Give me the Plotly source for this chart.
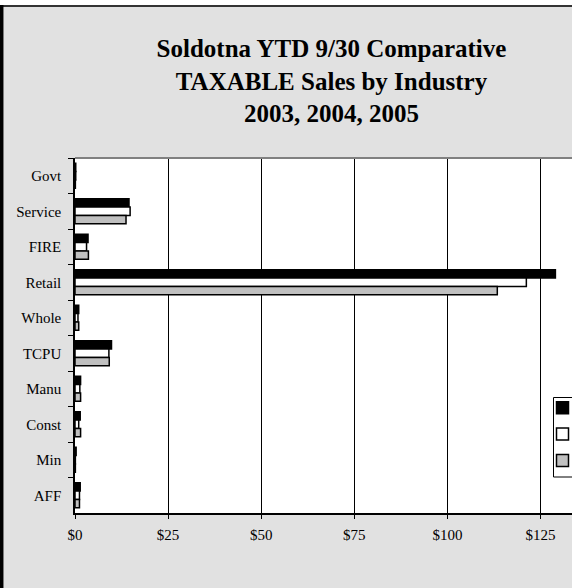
import plotly.graph_objects as go

categories = ["Govt", "Service", "FIRE", "Retail", "Whole", "TCPU", "Manu", "Const", "Min", "AFF"]
sales_2003 = [0.2, 14.5, 3.5, 129.0, 1.0, 9.8, 1.5, 1.4, 0.3, 1.4]
sales_2004 = [0.2, 14.8, 3.1, 121.2, 0.8, 9.1, 1.3, 1.0, 0.1, 1.2]
sales_2005 = [0.1, 13.7, 3.6, 113.4, 1.0, 9.2, 1.5, 1.5, 0.1, 1.2]
series_names = ["2003", "2004", "2005"]
x_ticks = [0, 25, 50, 75, 100, 125]

W, H = 663, 588
L, R, T, B = 75, 63, 158, 75
FONT = "Liberation Serif"
PX_PER_UNIT = 3.724

fig = go.Figure()
for name, vals, color in zip(series_names, [sales_2003, sales_2004, sales_2005],
                             ["#000000", "#ffffff", "#c0c0c0"]):
    fig.add_trace(go.Bar(
        y=categories, x=vals, name=name, orientation="h",
        marker=dict(color=color, line=dict(color="#000000", width=1.5)),
    ))

pw = W - L - R
ph = H - T - B
def px_x(p):
    return (p - L) / pw
def px_y(p):
    return 1 - (p - T) / ph

shapes = [
    dict(type="rect", xref="paper", yref="paper", x0=px_x(-5), x1=px_x(W + 5),
         y0=px_y(5), y1=px_y(-5), fillcolor="#ffffff", line=dict(width=0), layer="below"),
    dict(type="line", xref="paper", yref="paper", x0=px_x(0), x1=px_x(W + 5),
         y0=px_y(6), y1=px_y(6), line=dict(color="#333333", width=2)),
    dict(type="line", xref="paper", yref="paper", x0=px_x(1.7), x1=px_x(1.7),
         y0=px_y(5), y1=px_y(H + 5), line=dict(color="#000000", width=3.5)),
    dict(type="line", xref="paper", yref="paper", x0=0, x1=1,
         y0=1, y1=1, line=dict(color="#808080", width=2)),
    # legend frame
    dict(type="rect", xref="paper", yref="paper", x0=px_x(553.5), x1=px_x(W - 20),
         y0=px_y(477), y1=px_y(397.5), fillcolor="rgba(0,0,0,0)",
         line=dict(color="#000000", width=1), layer="above"),
]

fig.update_layout(
    width=W, height=H,
    margin=dict(l=L, r=R, t=T, b=B, autoexpand=False),
    paper_bgcolor="#e1e1e1",
    plot_bgcolor="#ffffff",
    barmode="group",
    bargap=0.3,
    bargroupgap=0,
    font=dict(family=FONT, color="#000000", size=15),
    title=dict(
        text="Soldotna YTD 9/30 Comparative<br>TAXABLE Sales by Industry<br>2003, 2004, 2005",
        font=dict(family=FONT, size=25, color="#000000", weight="bold"),
        xref="container", yref="container",
        x=0.5, xanchor="center",
        y=1 - 57 / H, yanchor="top",
    ),
    xaxis=dict(
        range=[0, pw / PX_PER_UNIT],
        tickvals=x_ticks,
        ticktext=["$" + str(v) for v in x_ticks],
        showgrid=True, gridcolor="#000000", gridwidth=1,
        zeroline=False,
        showline=True, linecolor="#000000", linewidth=1.5,
        ticks="outside", ticklen=4, tickcolor="#000000", tickwidth=1,
        ticklabelstandoff=3,
        tickfont=dict(family=FONT, size=15, color="#000000"),
    ),
    yaxis=dict(
        type="category",
        categoryorder="array", categoryarray=categories,
        autorange="reversed",
        showgrid=False, zeroline=False,
        showline=True, linecolor="#000000", linewidth=1.5,
        ticks="outside", ticklen=5, tickcolor="#000000", tickwidth=1,
        tickson="boundaries",
        ticklabelstandoff=9,
        tickfont=dict(family=FONT, size=15, color="#000000"),
    ),
    legend=dict(
        x=px_x(542.5), y=px_y(389.5), xanchor="left", yanchor="top",
        bgcolor="rgba(0,0,0,0)", borderwidth=0,
        font=dict(family=FONT, size=18, color="#000000"),
        traceorder="normal",
    ),
    shapes=shapes,
)

fig.write_html(
    "out.html",
    config={"displayModeBar": False},
    post_script="document.body.style.margin='0px';document.body.style.overflow='hidden';",
)
